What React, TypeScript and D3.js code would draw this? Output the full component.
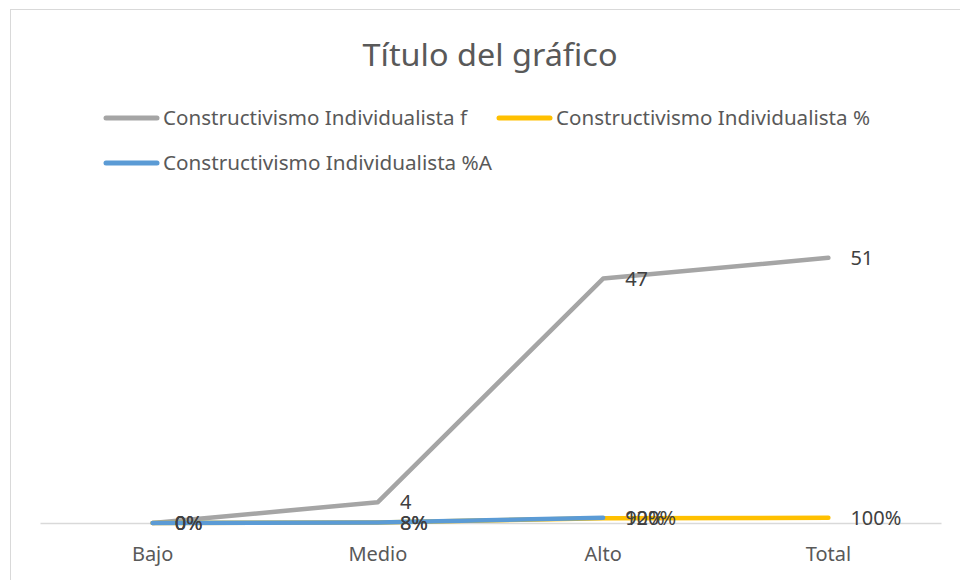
import React, { useEffect, useRef } from 'react';
import * as d3 from 'd3';

const categories = ['Bajo', 'Medio', 'Alto', 'Total'];
const freqValues = [0, 4, 47, 51];
const pctValues = [0, 0.08, 0.92, 1];
const pctAccValues: (number | null)[] = [0, 0.08, 1, null];

const seriesNames = [
  'Constructivismo Individualista f',
  'Constructivismo Individualista %',
  'Constructivismo Individualista %A',
];
const seriesColors = ['#A5A5A5', '#FFC000', '#5B9BD5'];

const FONT = "'Noto Sans', 'Open Sans', sans-serif";

const App = () => {
  const ref = useRef<SVGSVGElement>(null);

  useEffect(() => {
    const svg = d3.select(ref.current);
    svg.selectAll('*').remove();

    const plot = { left: 40, right: 941, top: 211, bottom: 523 };

    // chart frame
    svg.append('rect')
      .attr('x', 10.5).attr('y', 9.5)
      .attr('width', 980).attr('height', 600)
      .attr('fill', '#fff').attr('stroke', '#d9d9d9');

    svg.append('text')
      .attr('x', 490).attr('y', 66)
      .attr('text-anchor', 'middle')
      .attr('font-family', FONT).attr('font-size', 31)
      .attr('fill', '#595959')
      .attr('textLength', 255).attr('lengthAdjust', 'spacingAndGlyphs')
      .text('Título del gráfico');

    // legend, widths
    const legendPos = [
      { x: 104, y: 118, w: 304 },
      { x: 497, y: 118, w: 314 },
      { x: 104, y: 163, w: 329 },
    ];
    seriesNames.forEach((name, i) => {
      const p = legendPos[i];
      svg.append('line')
        .attr('x1', p.x + 2).attr('x2', p.x + 53)
        .attr('y1', p.y).attr('y2', p.y)
        .attr('stroke', seriesColors[i]).attr('stroke-width', 5)
        .attr('stroke-linecap', 'round');
      svg.append('text')
        .attr('x', p.x + 59).attr('y', p.y)
        .attr('dy', '0.35em')
        .attr('font-family', FONT).attr('font-size', 20.5)
        .attr('fill', '#595959')
        .attr('textLength', p.w).attr('lengthAdjust', 'spacingAndGlyphs')
        .text(name);
    });

    const x = d3.scaleBand()
      .domain(categories)
      .range([plot.left, plot.right]);
    const y = d3.scaleLinear()
      .domain([0, 60])
      .range([plot.bottom, plot.top]);

    // axis
    const axis = svg.append('g')
      .attr('transform', `translate(0,${plot.bottom})`)
      .call(d3.axisBottom(x).tickSize(0));
    axis.select('.domain').attr('stroke', '#d9d9d9').attr('stroke-width', 1.5);
    axis.selectAll('text')
      .attr('y', 31).attr('dy', '0.35em')
      .attr('font-family', FONT).attr('font-size', 20)
      .attr('fill', '#595959');

    const cx = (c: string) => (x(c) || 0) + x.bandwidth() / 2;

    const allSeries = [freqValues, pctValues, pctAccValues];
    const fmt = [
      (v: number) => `${v}`,
      (v: number) => `${Math.round(v * 100)}%`,
      (v: number) => `${Math.round(v * 100)}%`,
    ];

    allSeries.forEach((vals, i) => {
      const line = d3.line<number | null>()
        .defined(d => d !== null)
        .x((_, j) => cx(categories[j]))
        .y(d => y(d as number));
      svg.append('path')
        .datum(vals)
        .attr('d', line)
        .attr('fill', 'none')
        .attr('stroke', seriesColors[i])
        .attr('stroke-width', 4.5)
        .attr('stroke-linecap', 'round')
        .attr('stroke-linejoin', 'round');
    });

    allSeries.forEach((vals, i) => {
      vals.forEach((v, j) => {
        if (v === null) return;
        svg.append('text')
          .attr('x', cx(categories[j]) + 22)
          .attr('y', y(v))
          .attr('dy', '0.35em')
          .attr('font-family', FONT).attr('font-size', 20)
          .attr('fill', '#404040')
          .text(fmt[i](v));
      });
    });
  }, []);

  return (
    <svg ref={ref} style={{ position: 'absolute', left: 0, top: 0, background: '#fff' }} width={960} height={580} />
  );
};

export default App;
